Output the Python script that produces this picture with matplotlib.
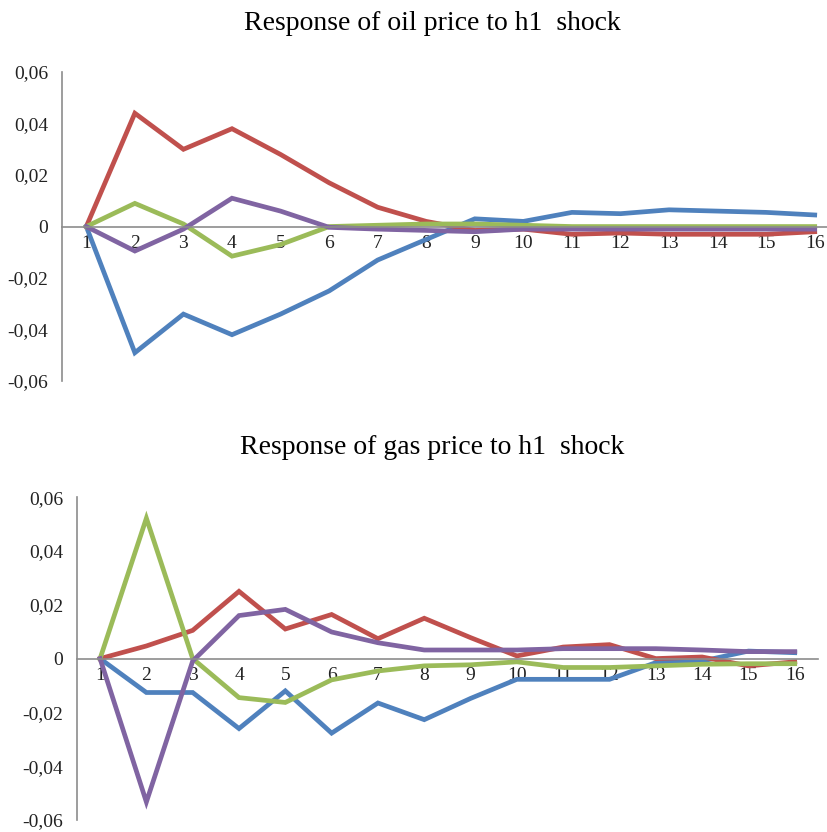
import matplotlib
matplotlib.use("Agg")
import matplotlib.pyplot as plt
from matplotlib.ticker import FuncFormatter

# --- data ---
periods = list(range(1, 17))

oil_blue = [0, -0.049, -0.034, -0.042, -0.034, -0.025, -0.013, -0.005,
            0.003, 0.002, 0.0055, 0.005, 0.0065, 0.006, 0.0055, 0.0045]
oil_red = [0, 0.044, 0.030, 0.038, 0.028, 0.017, 0.0075, 0.002,
           -0.0015, -0.001, -0.003, -0.0025, -0.003, -0.003, -0.003, -0.002]
oil_green = [0, 0.009, 0.001, -0.0115, -0.007, 0.0, 0.0005, 0.001,
             0.001, 0.0005, 0.0, 0.0, 0.0, 0.0, 0.0, 0.0]
oil_purple = [0, -0.0095, -0.001, 0.011, 0.006, -0.0003, -0.001, -0.0015,
              -0.002, -0.001, -0.001, -0.001, -0.001, -0.001, -0.001, -0.001]

gas_blue = [0, -0.0126, -0.0126, -0.026, -0.012, -0.0277, -0.0165, -0.0227,
            -0.0148, -0.0077, -0.0077, -0.0077, -0.0015, -0.0009, 0.0028, 0.0022]
gas_red = [0, 0.0047, 0.0105, 0.025, 0.011, 0.0164, 0.0074, 0.015,
           0.0078, 0.001, 0.0043, 0.0052, 0.0, 0.0006, -0.0027, -0.0012]
gas_green = [0, 0.0522, 0.0, -0.0145, -0.0163, -0.0079, -0.0046, -0.0027,
             -0.0023, -0.0012, -0.0033, -0.0033, -0.0027, -0.0021, -0.0019, -0.0019]
gas_purple = [0, -0.0533, -0.0009, 0.016, 0.0183, 0.0099, 0.0059, 0.0032,
              0.0032, 0.0032, 0.0037, 0.0037, 0.0037, 0.0032, 0.0026, 0.0026]

titles = ["Response of oil price to h1  shock", "Response of gas price to h1  shock"]
y_ticks = [-0.06, -0.04, -0.02, 0, 0.02, 0.04, 0.06]

colors = ["#4F81BD", "#C0504D", "#9BBB59", "#8064A2"]
axis_grey = "#8C8C8C"

plt.rcParams['font.family'] = ['Liberation Serif', 'DejaVu Serif']


def comma_fmt(v, pos):
    if abs(v) < 1e-9:
        return "0"
    return f"{v:.2f}".replace(".", ",")


def style_axes(ax):
    ax.set_ylim(-0.06, 0.06)
    ax.set_xlim(0.5, 16.5)
    ax.set_yticks(y_ticks)
    ax.yaxis.set_major_formatter(FuncFormatter(comma_fmt))
    ax.set_xticks(periods)
    ax.set_xticklabels([str(p) for p in periods])
    ax.spines['top'].set_visible(False)
    ax.spines['right'].set_visible(False)
    ax.spines['bottom'].set_position(('data', 0))
    ax.spines['bottom'].set_color(axis_grey)
    ax.spines['left'].set_color(axis_grey)
    ax.spines['bottom'].set_linewidth(1.2)
    ax.spines['left'].set_linewidth(1.2)
    ax.tick_params(axis='both', length=0, labelsize=14, colors='#222222')
    ax.tick_params(axis='x', pad=6)
    ax.tick_params(axis='y', pad=10)
    ax.patch.set_visible(False)


fig = plt.figure(figsize=(8.27, 8.32), dpi=100)

# top panel
ax1 = fig.add_axes([0.075, 0.542, 0.9395, 0.3714])
for series, c in zip([oil_blue, oil_red, oil_green, oil_purple], colors):
    ax1.plot(periods, series, color=c, linewidth=3.4, solid_joinstyle='miter')
style_axes(ax1)

# bottom panel
ax2 = fig.add_axes([0.093, 0.0144, 0.896, 0.388])
for series, c in zip([gas_blue, gas_red, gas_green, gas_purple], colors):
    ax2.plot(periods, series, color=c, linewidth=3.4, solid_joinstyle='miter')
style_axes(ax2)

fig.text(432 / 827, 1 - 23 / 832, titles[0], ha='center', va='center', fontsize=20)
fig.text(432 / 827, 1 - 448 / 832, titles[1], ha='center', va='center', fontsize=20)

fig.savefig("out.png", dpi=100)
